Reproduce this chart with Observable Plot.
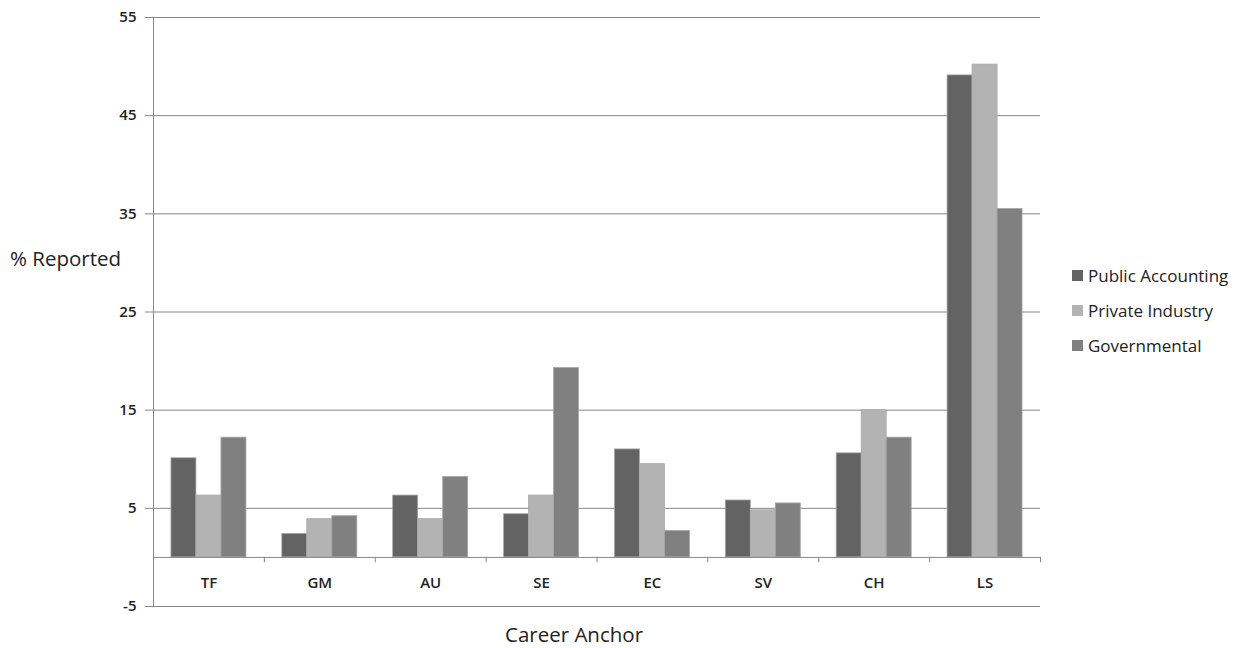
<!DOCTYPE html>
<html>
<head>
<meta charset="utf-8">
<script src="https://cdn.jsdelivr.net/npm/d3@7"></script>
<script src="https://cdn.jsdelivr.net/npm/@observablehq/plot@0.6"></script>
<style>
  body { margin: 0; background: #fff; font-family: "Open Sans", sans-serif; }
  #wrap { position: relative; width: 1234px; height: 648px; }
  #wrap svg text { fill: #222; }
  .ylab { position: absolute; left: 10px; top: 244px; font-size: 20.5px; line-height: 28px; color: #222; white-space: nowrap; }
  .xlab { position: absolute; left: 505px; top: 620px; font-size: 20.5px; line-height: 28px; color: #222; white-space: nowrap; }
  .legend { position: absolute; left: 1072px; top: 258px; font-size: 17px; color: #222; }
  .legend .row { display: flex; align-items: center; height: 35px; }
  .legend .sw { width: 11px; height: 11px; margin-right: 5px; }
</style>
</head>
<body>
<div id="wrap"></div>
<script>
// Career anchor categories and the share of respondents in each sector
const anchors = ["TF", "GM", "AU", "SE", "EC", "SV", "CH", "LS"];
const sectors = ["Public Accounting", "Private Industry", "Governmental"];
const publicAccounting = [10.1, 2.4, 6.3, 4.4, 11.0, 5.8, 10.6, 49.1];
const privateIndustry  = [6.3, 3.9, 3.9, 6.3, 9.5, 4.8, 15.0, 50.2];
const governmental     = [12.2, 4.2, 8.2, 19.3, 2.7, 5.5, 12.2, 35.5];
const yTicks = [-5, 5, 15, 25, 35, 45, 55];
const sectorColors = ["#636363", "#b3b3b3", "#808080"];

const values = [publicAccounting, privateIndustry, governmental];

const width = 1234, height = 648;
const margin = {top: 17, right: 194, bottom: 42, left: 153};
const step = (width - margin.left - margin.right) / anchors.length;
const barW = 25;
const groupOffset = (step - barW * sectors.length) / 2;
const gridColor = "#878787";

const barMarks = values.map((vals, k) =>
  Plot.barY(anchors.map((a, i) => ({anchor: a, value: vals[i]})), {
    x: "anchor",
    y: "value",
    fill: sectorColors[k],
    stroke: "#a8a8a8",
    strokeWidth: 0.8,
    insetLeft: groupOffset + k * barW,
    insetRight: step - groupOffset - (k + 1) * barW
  })
);

const chart = Plot.plot({
  width, height,
  marginTop: margin.top, marginRight: margin.right,
  marginBottom: margin.bottom, marginLeft: margin.left,
  style: {fontFamily: "Open Sans, sans-serif", background: "#fff"},
  x: {domain: anchors, padding: 0, round: false, axis: null},
  y: {domain: [-5, 55], axis: null},
  marks: [
    Plot.gridY(yTicks, {stroke: gridColor, strokeOpacity: 1}),
    Plot.axisY(yTicks, {
      tickSize: 8, tickPadding: 9, stroke: gridColor, label: null,
      tickFormat: d => String(d),
      fontSize: 15, fontWeight: 600
    }),
    ...barMarks,
    // category axis along zero, with boundary ticks
    Plot.ruleY([0], {stroke: gridColor}),
    Plot.ruleX([anchors[0]], {dx: -step / 2, stroke: gridColor}),
    Plot.ruleX(anchors, {dx: step / 2, y1: 0, y2: -0.55, stroke: gridColor}),
    Plot.text(anchors, {
      x: d => d, text: d => d, frameAnchor: "bottom", dy: -19,
      fontSize: 15, fontWeight: 600
    })
  ]
});

const wrap = document.getElementById("wrap");
wrap.appendChild(chart);

const ylab = document.createElement("div");
ylab.className = "ylab";
ylab.textContent = "% Reported";
wrap.appendChild(ylab);

const xlab = document.createElement("div");
xlab.className = "xlab";
xlab.textContent = "Career Anchor";
wrap.appendChild(xlab);

const legend = document.createElement("div");
legend.className = "legend";
sectors.forEach((s, k) => {
  const row = document.createElement("div");
  row.className = "row";
  const sw = document.createElement("div");
  sw.className = "sw";
  sw.style.background = sectorColors[k];
  const lab = document.createElement("span");
  lab.textContent = s;
  row.appendChild(sw);
  row.appendChild(lab);
  legend.appendChild(row);
});
wrap.appendChild(legend);
</script>
</body>
</html>
